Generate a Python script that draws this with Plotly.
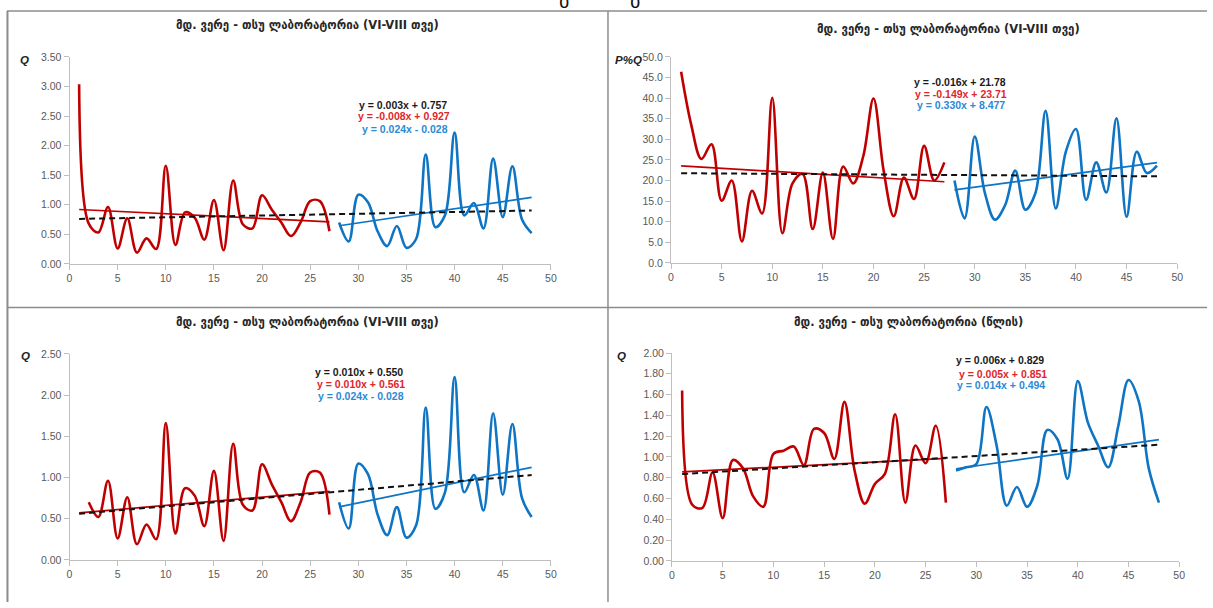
import plotly.graph_objects as go

W, H = 1213, 608

# ---------------- data ----------------
x_red = list(range(1, 28))
x_blue = list(range(28, 49))
x_red_p3 = list(range(2, 28))

q_summer_red = [3.04, 0.68, 0.53, 0.96, 0.26, 0.77, 0.19, 0.43, 0.25, 1.66,
                0.32, 0.87, 0.78, 0.41, 1.08, 0.23, 1.41, 0.67, 0.60, 1.16,
                0.92, 0.70, 0.47, 0.70, 1.06, 1.06, 0.55]
q_summer_blue = [0.70, 0.38, 1.17, 1.04, 0.55, 0.30, 0.64, 0.27, 0.42, 1.85,
                 0.62, 0.82, 2.22, 0.82, 1.03, 0.60, 1.78, 0.79, 1.65, 0.75, 0.52]

pq_summer_red = [46.4, 33.5, 25.2, 28.8, 15.1, 20.0, 5.2, 17.5, 12.0, 40.1,
                 7.2, 19.3, 21.6, 8.2, 21.9, 5.8, 23.4, 19.3, 26.0, 39.9,
                 22.4, 11.3, 20.7, 15.5, 28.4, 20.0, 24.4]
pq_summer_blue = [20.0, 10.8, 30.7, 17.0, 10.5, 14.0, 22.4, 12.9, 17.0, 36.9,
                  13.2, 27.0, 32.5, 15.3, 24.4, 17.1, 35.1, 11.2, 27.0, 21.8, 23.6]

q_summer_red_p3 = [0.70, 0.52, 0.96, 0.26, 0.76, 0.19, 0.43, 0.25, 1.66,
                   0.32, 0.87, 0.78, 0.41, 1.08, 0.23, 1.41, 0.67, 0.60, 1.16,
                   0.92, 0.70, 0.47, 0.70, 1.06, 1.06, 0.55]

q_annual_red = [1.64, 0.54, 0.51, 0.85, 0.41, 0.97, 0.89, 0.62, 0.52, 1.03,
                1.06, 1.10, 0.92, 1.27, 1.23, 0.98, 1.53, 0.87, 0.55, 0.74,
                0.84, 1.41, 0.56, 1.11, 0.94, 1.30, 0.56]
q_annual_blue = [0.87, 0.90, 0.93, 1.48, 1.11, 0.53, 0.71, 0.52, 0.72, 1.26,
                 1.17, 0.79, 1.73, 1.33, 1.11, 0.90, 1.30, 1.74, 1.54, 0.89, 0.56]

# trend coefficients (slope, intercept): all / red / blue
trend_p1 = [(0.003, 0.757), (-0.008, 0.927), (0.024, -0.028)]
trend_p2 = [(-0.016, 21.78), (-0.149, 23.71), (0.330, 8.477)]
trend_p3 = [(0.010, 0.550), (0.010, 0.561), (0.024, -0.028)]
trend_p4 = [(0.006, 0.829), (0.005, 0.851), (0.014, 0.494)]

eq_p1 = ["y = 0.003x + 0.757", "y = -0.008x + 0.927", "y = 0.024x - 0.028"]
eq_p2 = ["y = -0.016x + 21.78", "y = -0.149x + 23.71", "y = 0.330x + 8.477"]
eq_p3 = ["y = 0.010x + 0.550", "y = 0.010x + 0.561", "y = 0.024x - 0.028"]
eq_p4 = ["y = 0.006x + 0.829", "y = 0.005x + 0.851", "y = 0.014x + 0.494"]

trend_x_all = [1, 48]
trend_x_red = [1, 27]
trend_x_blue = [28, 48]

title_summer = "მდ. ვერე - თსუ ლაბორატორია (VI-VIII თვე)"
title_annual = "მდ. ვერე - თსუ ლაბორატორია (წლის)"

# ---------------- styling ----------------
RED = "#C00000"
BLUE = "#0E74C4"
RED_TXT = "#E0262B"
BLUE_TXT = "#2A8AD6"
AX = "#BFBFBF"
TICKC = "#595959"


def px(x):
    return x / W


def py(y):
    return 1 - y / H


panels = [
    dict(xr=x_red, yr=q_summer_red, xb=x_blue, yb=q_summer_blue, tr=trend_p1, eq=eq_p1,
         dx=[px(67), px(552)], dy=[py(263), py(52)], yrange=[0, 3.5], dtick=0.5, fmt=".2f",
         title=title_summer, tpos=(307, 19), ylab="Q", ylpos=(22, 55),
         eqpos=[(34.6, 2.68), (34.7, 2.50), (34.8, 2.285)]),
    dict(xr=x_red, yr=pq_summer_red, xb=x_blue, yb=pq_summer_blue, tr=trend_p2, eq=eq_p2,
         dx=[px(673), px(1183)], dy=[py(262), py(52)], yrange=[0, 50], dtick=5, fmt=".1f",
         title=title_summer, tpos=(953, 23), ylab="P%Q", ylpos=(630, 55),
         eqpos=[(28.5, 44.0), (28.6, 41.0), (28.6, 38.3)]),
    dict(xr=x_red_p3, yr=q_summer_red_p3, xb=x_blue, yb=q_summer_blue, tr=trend_p3, eq=eq_p3,
         dx=[px(67), px(552)], dy=[py(565), py(355)], yrange=[0, 2.5], dtick=0.5, fmt=".2f",
         title=title_summer, tpos=(307, 322), ylab="Q", ylpos=(23, 357),
         eqpos=[(30.1, 2.285), (30.3, 2.13), (30.3, 1.99)]),
    dict(xr=x_red, yr=q_annual_red, xb=x_blue, yb=q_annual_blue, tr=trend_p4, eq=eq_p4,
         dx=[px(674), px(1185)], dy=[py(566), py(354)], yrange=[0, 2.0], dtick=0.2, fmt=".2f",
         title=title_annual, tpos=(912, 322), ylab="Q", ylpos=(623, 357),
         eqpos=[(32.3, 1.93), (32.6, 1.80), (32.4, 1.69)]),
]

fig = go.Figure()
annotations = []
layout_axes = {}

for i, p in enumerate(panels, start=1):
    xa = "x" if i == 1 else f"x{i}"
    ya = "y" if i == 1 else f"y{i}"
    xkey = "xaxis" if i == 1 else f"xaxis{i}"
    ykey = "yaxis" if i == 1 else f"yaxis{i}"

    # data lines
    fig.add_trace(go.Scatter(x=p["xr"], y=p["yr"], mode="lines",
                             line=dict(color=RED, width=2.6, shape="spline", smoothing=1.0),
                             xaxis=xa, yaxis=ya, showlegend=False, hoverinfo="skip"))
    fig.add_trace(go.Scatter(x=p["xb"], y=p["yb"], mode="lines",
                             line=dict(color=BLUE, width=2.6, shape="spline", smoothing=1.0),
                             xaxis=xa, yaxis=ya, showlegend=False, hoverinfo="skip"))

    # trend lines
    (m0, b0), (m1, b1), (m2, b2) = p["tr"]
    fig.add_trace(go.Scatter(x=trend_x_red, y=[m1 * x + b1 for x in trend_x_red], mode="lines",
                             line=dict(color=RED, width=1.7),
                             xaxis=xa, yaxis=ya, showlegend=False, hoverinfo="skip"))
    fig.add_trace(go.Scatter(x=trend_x_blue, y=[m2 * x + b2 for x in trend_x_blue], mode="lines",
                             line=dict(color=BLUE, width=1.7),
                             xaxis=xa, yaxis=ya, showlegend=False, hoverinfo="skip"))
    fig.add_trace(go.Scatter(x=trend_x_all, y=[m0 * x + b0 for x in trend_x_all], mode="lines",
                             line=dict(color="#111111", width=2, dash="6px,4px"),
                             xaxis=xa, yaxis=ya, showlegend=False, hoverinfo="skip"))

    common = dict(showline=True, linecolor=AX, linewidth=1, ticks="outside", tickcolor=AX,
                  ticklen=5, tickwidth=1, showgrid=False, zeroline=False,
                  tickfont=dict(family="Liberation Sans, Arial, sans-serif", size=10.5, color=TICKC))
    layout_axes[xkey] = dict(domain=p["dx"], anchor=ya, range=[0, 50], dtick=5, tick0=0,
                             **common)
    layout_axes[ykey] = dict(domain=p["dy"], anchor=xa, range=p["yrange"], dtick=p["dtick"],
                             tick0=0, tickformat=p["fmt"], **common)

    # title
    annotations.append(dict(text=f"<b>{p['title']}</b>", x=px(p["tpos"][0]), y=py(p["tpos"][1]),
                            xref="paper", yref="paper", showarrow=False,
                            xanchor="center", yanchor="middle",
                            font=dict(family="DejaVu Sans", size=11.5, color="#262626")))
    # axis label
    annotations.append(dict(text=f"<b><i>{p['ylab']}</i></b>", x=px(p["ylpos"][0]), y=py(p["ylpos"][1]),
                            xref="paper", yref="paper", showarrow=False,
                            xanchor="center", yanchor="middle",
                            font=dict(family="Liberation Sans, Arial", size=11.5, color="#222222")))
    # equations
    for txt, col, (ex, ey) in zip(p["eq"], ["#1A1A1A", RED_TXT, BLUE_TXT], p["eqpos"]):
        annotations.append(dict(text=f"<b>{txt}</b>", x=ex, y=ey, xref=xa, yref=ya,
                                showarrow=False, xanchor="center", yanchor="middle",
                                borderpad=0,
                                font=dict(family="Liberation Sans, Arial", size=10.5, color=col)))

# cropped glyphs from a heading above the page edge
for gx in (565, 637):
    annotations.append(dict(text="ბ", x=px(gx), y=py(9), xref="paper", yref="paper",
                            showarrow=False, xanchor="center", yanchor="bottom",
                            font=dict(family="DejaVu Sans", size=20, color="#111111")))

frame = "#8C8C8C"
shapes = [
    dict(type="line", xref="paper", yref="paper", x0=px(4), x1=1, y0=py(5), y1=py(5),
         line=dict(color=frame, width=1.5)),
    dict(type="line", xref="paper", yref="paper", x0=px(4.5), x1=px(4.5), y0=py(5), y1=0,
         line=dict(color=frame, width=2)),
    dict(type="line", xref="paper", yref="paper", x0=px(609.5), x1=px(609.5), y0=py(5), y1=0,
         line=dict(color=frame, width=1.5)),
    dict(type="line", xref="paper", yref="paper", x0=px(4), x1=1, y0=py(307.5), y1=py(307.5),
         line=dict(color=frame, width=1.5)),
]

fig.update_layout(width=W, height=H, autosize=False,
                  margin=dict(l=0, r=0, t=0, b=0),
                  paper_bgcolor="white", plot_bgcolor="white",
                  annotations=annotations, shapes=shapes, showlegend=False,
                  **layout_axes)

fig.write_html("out.html", config={"displayModeBar": False},
               post_script="document.body.style.margin='0';document.body.style.overflow='hidden';")
